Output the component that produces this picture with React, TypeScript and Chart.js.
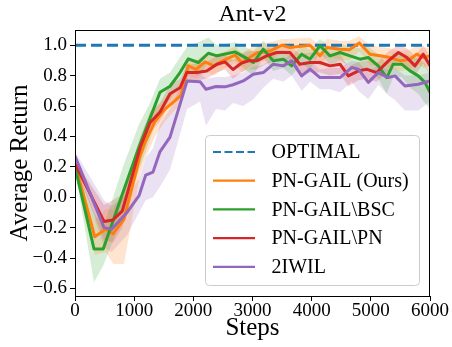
import React, { useEffect, useRef } from "react";
import { Chart, registerables } from "chart.js";

Chart.register(...registerables);

// ---------- data ----------
const Y_TICKS = [-0.6, -0.4, -0.2, 0, 0.2, 0.4, 0.6, 0.8, 1.0];
const X_TICKS = [0, 1000, 2000, 3000, 4000, 5000, 6000];
const OPTIMAL_STEPS = [0, 6000];
const OPTIMAL_VALUES = [1.0, 1.0];

const orangeSteps = [0, 333, 519, 647, 828, 1099, 1183, 1352, 1521, 1707, 1791, 1915, 2045, 2197, 2349, 2484, 2704, 2817, 2958, 3076, 3280, 3500, 3634, 3972, 4140, 4259, 4479, 4640, 4805, 4986, 5155, 5324, 5493, 5662, 5775, 5886, 6000];
const orangeMean = [0.22, -0.26, -0.21, -0.24, -0.145, 0.27, 0.36, 0.5, 0.58, 0.64, 0.67, 0.865, 0.84, 0.89, 0.864, 0.895, 0.935, 0.886, 0.92, 0.95, 0.96, 1.0, 0.985, 1.0, 0.93, 0.985, 0.974, 0.97, 1.015, 0.941, 0.93, 0.919, 0.897, 0.908, 0.941, 0.919, 0.93];
const orangeLow = [0.2, -0.38, -0.36, -0.44, -0.44, 0.15, 0.25, 0.4, 0.5, 0.58, 0.6, 0.8, 0.78, 0.83, 0.8, 0.84, 0.88, 0.82, 0.86, 0.89, 0.9, 0.95, 0.92, 0.94, 0.86, 0.92, 0.91, 0.9, 0.96, 0.87, 0.86, 0.85, 0.83, 0.84, 0.88, 0.85, 0.86];
const orangeHigh = [0.24, -0.15, -0.08, -0.08, 0.05, 0.35, 0.44, 0.58, 0.65, 0.72, 0.75, 0.92, 0.9, 0.94, 0.92, 0.95, 0.99, 0.95, 0.98, 1.01, 1.02, 1.04, 1.04, 1.05, 1.0, 1.04, 1.03, 1.03, 1.06, 1.0, 0.99, 0.98, 0.96, 0.97, 1.0, 0.98, 0.99];

const greenSteps = [0, 321, 478, 828, 1082, 1268, 1437, 1606, 1775, 1915, 2084, 2253, 2400, 2704, 2873, 3013, 3182, 3351, 3520, 3662, 3831, 3972, 4140, 4310, 4479, 4648, 4817, 4957, 5126, 5268, 5379, 5521, 5662, 5802, 5915, 6000];
const greenMean = [0.2, -0.34, -0.34, 0.05, 0.33, 0.52, 0.69, 0.73, 0.82, 0.91, 0.886, 0.947, 0.93, 0.956, 0.92, 0.886, 0.974, 0.897, 0.908, 0.864, 0.941, 0.908, 0.996, 0.93, 0.952, 0.93, 0.908, 0.919, 0.864, 0.787, 0.875, 0.875, 0.831, 0.798, 0.755, 0.69];
const greenLow = [0.18, -0.56, -0.45, -0.1, 0.18, 0.38, 0.58, 0.64, 0.74, 0.83, 0.8, 0.88, 0.86, 0.9, 0.84, 0.8, 0.92, 0.83, 0.85, 0.8, 0.88, 0.84, 0.95, 0.87, 0.9, 0.86, 0.83, 0.85, 0.78, 0.68, 0.79, 0.79, 0.72, 0.68, 0.62, 0.58];
const greenHigh = [0.22, -0.1, -0.2, 0.22, 0.48, 0.62, 0.78, 0.82, 0.92, 1.0, 1.02, 1.05, 1.0, 1.02, 0.99, 0.96, 1.03, 0.96, 0.97, 0.93, 1.0, 0.97, 1.04, 0.99, 1.01, 0.99, 0.98, 0.99, 0.94, 0.88, 0.95, 0.95, 0.93, 0.91, 0.88, 0.8];

const redSteps = [0, 490, 640, 800, 1104, 1268, 1437, 1606, 1775, 1887, 2056, 2225, 2400, 2535, 2670, 2806, 2930, 3070, 3240, 3408, 3633, 3802, 3971, 4140, 4310, 4479, 4620, 4789, 4930, 5100, 5297, 5466, 5608, 5746, 5886, 6000];
const redMean = [0.22, -0.16, -0.15, -0.09, 0.33, 0.49, 0.56, 0.68, 0.72, 0.82, 0.82, 0.83, 0.875, 0.89, 0.84, 0.88, 0.897, 0.897, 0.93, 0.952, 0.952, 0.875, 0.886, 0.886, 0.864, 0.875, 0.798, 0.831, 0.842, 0.82, 0.897, 0.952, 0.919, 0.864, 0.941, 0.864];
const redLow = [0.2, -0.28, -0.3, -0.2, 0.25, 0.42, 0.5, 0.62, 0.66, 0.77, 0.77, 0.78, 0.82, 0.84, 0.78, 0.82, 0.84, 0.84, 0.88, 0.9, 0.9, 0.8, 0.82, 0.82, 0.8, 0.81, 0.73, 0.77, 0.78, 0.76, 0.83, 0.9, 0.86, 0.8, 0.88, 0.8];
const redHigh = [0.24, -0.05, -0.02, 0.02, 0.4, 0.56, 0.62, 0.74, 0.78, 0.87, 0.88, 0.89, 0.93, 0.94, 0.9, 0.94, 0.96, 0.96, 0.98, 1.0, 1.0, 0.94, 0.95, 0.95, 0.93, 0.94, 0.86, 0.89, 0.9, 0.88, 0.96, 1.0, 0.98, 0.93, 1.0, 0.93];

const purpleSteps = [0, 490, 620, 880, 1082, 1195, 1318, 1437, 1606, 1895, 2113, 2214, 2383, 2535, 2670, 2844, 3013, 3182, 3351, 3520, 3662, 3831, 3972, 4140, 4310, 4479, 4676, 4789, 4957, 5126, 5295, 5408, 5577, 5803, 6000];
const purpleMean = [0.27, -0.2, -0.21, -0.1, 0.01, 0.145, 0.165, 0.3, 0.395, 0.765, 0.76, 0.71, 0.728, 0.726, 0.74, 0.765, 0.809, 0.82, 0.875, 0.864, 0.897, 0.798, 0.842, 0.787, 0.787, 0.787, 0.853, 0.842, 0.755, 0.82, 0.787, 0.798, 0.732, 0.743, 0.765];
const purpleLow = [0.24, -0.33, -0.36, -0.25, -0.1, -0.02, 0.0, 0.07, 0.18, 0.58, 0.63, 0.47, 0.58, 0.57, 0.62, 0.6, 0.645, 0.72, 0.78, 0.76, 0.8, 0.7, 0.76, 0.71, 0.71, 0.69, 0.76, 0.7, 0.645, 0.74, 0.67, 0.64, 0.57, 0.57, 0.63];
const purpleHigh = [0.3, -0.02, -0.06, 0.02, 0.12, 0.26, 0.32, 0.48, 0.58, 0.82, 0.82, 0.78, 0.79, 0.79, 0.8, 0.82, 0.86, 0.87, 0.92, 0.91, 0.94, 0.86, 0.9, 0.84, 0.85, 0.85, 0.9, 0.89, 0.82, 0.87, 0.84, 0.85, 0.8, 0.8, 0.82];

const LABELS = ["OPTIMAL", "PN-GAIL (Ours)", "PN-GAIL\\BSC", "PN-GAIL\\PN", "2IWIL"];
const COLORS = ["#1f77b4", "#ff7f0e", "#2ca02c", "#d62728", "#9467bd"];
const FILLS = ["rgba(31,119,180,0.2)", "rgba(255,127,14,0.2)", "rgba(44,160,44,0.2)", "rgba(214,39,40,0.2)", "rgba(148,103,189,0.2)"];

const FONT = "'Liberation Serif', 'Times New Roman', serif";

const zip = (xs: number[], ys: number[]) => xs.map((x, i) => ({ x, y: ys[i] }));
const fmtY = (v: number) => {
  const s = Number(v).toFixed(1);
  return s.startsWith("-") ? "\u2212" + s.slice(1) : s;
};

const decorPlugin = {
  id: "decor",
  afterDatasetsDraw(chart: any) {
    const { ctx, chartArea } = chart;
    ctx.save();
    ctx.strokeStyle = "#000";
    ctx.lineWidth = 1;
    ctx.strokeRect(
      Math.round(chartArea.left) + 0.5,
      Math.round(chartArea.top) + 0.5,
      Math.round(chartArea.right - chartArea.left) - 1,
      Math.round(chartArea.bottom - chartArea.top)
    );
    ctx.restore();
  },
  afterDraw(chart: any) {
    const { ctx, chartArea } = chart;
    const cx = (chartArea.left + chartArea.right) / 2;
    const cy = (chartArea.top + chartArea.bottom) / 2;
    ctx.save();
    ctx.fillStyle = "#000";
    ctx.textAlign = "center";
    ctx.textBaseline = "middle";
    ctx.font = `24px ${FONT}`;
    ctx.fillText("Ant-v2", cx, 15);
    ctx.font = `25px ${FONT}`;
    ctx.fillText("Steps", cx, 328);
    ctx.save();
    ctx.translate(20, cy);
    ctx.rotate(-Math.PI / 2);
    ctx.fillText("Average Return", 0, 0);
    ctx.restore();

    // legend
    const bx = 205.5, by = 135.5, bw = 214, bh = 150;
    ctx.beginPath();
    (ctx as any).roundRect(bx, by, bw, bh, 4);
    ctx.fillStyle = "rgba(255,255,255,0.8)";
    ctx.fill();
    ctx.strokeStyle = "#cccccc";
    ctx.lineWidth = 1;
    ctx.stroke();
    ctx.font = `20px ${FONT}`;
    ctx.textAlign = "left";
    ctx.textBaseline = "middle";
    LABELS.forEach((lab, i) => {
      const y = 152 + i * 28.7;
      ctx.beginPath();
      ctx.strokeStyle = COLORS[i];
      ctx.lineWidth = 2.2;
      ctx.setLineDash(i === 0 ? [8, 3.5] : []);
      ctx.moveTo(213, y);
      ctx.lineTo(255, y);
      ctx.stroke();
      ctx.setLineDash([]);
      ctx.fillStyle = "#000";
      ctx.fillText(lab, 271.5, y + 1);
    });
    ctx.restore();
  },
};

export default function App() {
  const ref = useRef<HTMLCanvasElement | null>(null);
  useEffect(() => {
    if (!ref.current) return;
    const band = (steps: number[], lo: number[], hi: number[], idx: number) => [
      {
        data: zip(steps, lo),
        borderColor: "transparent",
        borderWidth: 0,
        pointRadius: 0,
        fill: false,
        order: 10,
      },
      {
        data: zip(steps, hi),
        borderColor: "transparent",
        borderWidth: 0,
        pointRadius: 0,
        backgroundColor: FILLS[idx],
        fill: "-1",
        order: 10,
      },
    ];
    const line = (steps: number[], vals: number[], idx: number, order: number, dash: number[] = []) => ({
      label: LABELS[idx],
      data: zip(steps, vals),
      borderColor: COLORS[idx],
      borderWidth: 3,
      borderDash: dash,
      borderJoinStyle: "round" as const,
      pointRadius: 0,
      fill: false,
      order,
    });
    const chart = new Chart(ref.current, {
      type: "line",
      data: {
        datasets: [
          ...band(orangeSteps, orangeLow, orangeHigh, 1),
          ...band(greenSteps, greenLow, greenHigh, 2),
          ...band(redSteps, redLow, redHigh, 3),
          ...band(purpleSteps, purpleLow, purpleHigh, 4),
          line(OPTIMAL_STEPS, OPTIMAL_VALUES, 0, 6, [11, 5]),
          line(orangeSteps, orangeMean, 1, 4),
          line(greenSteps, greenMean, 2, 3),
          line(redSteps, redMean, 3, 2),
          line(purpleSteps, purpleMean, 4, 1),
        ] as any,
      },
      options: {
        animation: false,
        responsive: false,
        devicePixelRatio: 1,
        layout: { padding: { top: 30, right: 22, left: 0, bottom: 0 } },
        plugins: { legend: { display: false }, tooltip: { enabled: false }, title: { display: false } },
        elements: { line: { tension: 0 } },
        scales: {
          x: {
            type: "linear",
            min: 0,
            max: 6000,
            afterBuildTicks: (s: any) => {
              s.ticks = X_TICKS.map((v) => ({ value: v }));
            },
            afterFit: (s: any) => {
              s.height = 51;
            },
            ticks: {
              autoSkip: false,
              maxRotation: 0,
              padding: -1,
              color: "#000",
              font: { family: FONT, size: 19 },
              callback: (v: any) => String(v),
            },
            grid: { display: true, drawOnChartArea: false, drawTicks: true, tickLength: 5, color: "#000", lineWidth: 1 },
            border: { display: false },
          },
          y: {
            type: "linear",
            min: -0.65,
            max: 1.1,
            afterBuildTicks: (s: any) => {
              s.ticks = Y_TICKS.map((v) => ({ value: v }));
            },
            afterFit: (s: any) => {
              s.width = 75;
            },
            ticks: {
              autoSkip: false,
              padding: 3,
              color: "#000",
              font: { family: FONT, size: 19 },
              callback: (v: any) => fmtY(v),
            },
            grid: { display: true, drawOnChartArea: false, drawTicks: true, tickLength: 5, color: "#000", lineWidth: 1 },
            border: { display: false },
          },
        },
      } as any,
      plugins: [decorPlugin],
    });
    return () => chart.destroy();
  }, []);
  return (
    <div style={{ position: "fixed", left: 0, top: 0, width: 452, height: 347, background: "#fff" }}>
      <canvas ref={ref} width={452} height={347} style={{ width: 452, height: 347, display: "block" }} />
    </div>
  );
}
